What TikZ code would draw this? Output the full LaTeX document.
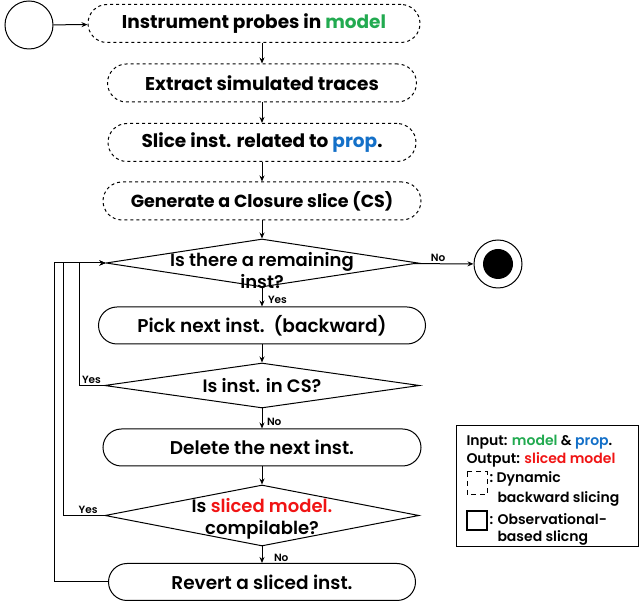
\documentclass[tikz,border=0pt]{standalone}
\usepackage{fontspec}
\setmainfont{Poppins}
\IfFontExistsTF{Poppins SemiBold}
  {\newfontfamily\medfont{Poppins SemiBold}}
  {\IfFontExistsTF{Poppins Medium}
    {\newfontfamily\medfont{Poppins Medium}}
    {\newfontfamily\medfont{Poppins}}}
\usetikzlibrary{shapes.geometric,arrows.meta}
\definecolor{mgreen}{RGB}{34,170,80}
\definecolor{pblue}{RGB}{20,112,200}
\definecolor{sred}{RGB}{240,20,20}

\begin{document}
\begin{tikzpicture}[x=1pt,y=-1pt,line width=1pt,>={Stealth[length=6pt,width=5pt]},
    dynbox/.style={draw,dashed,rounded corners=19pt,minimum height=38pt,inner sep=0pt,
        font=\bfseries\fontsize{18.5}{20}\selectfont},
    obsbox/.style={draw,rounded corners=18.5pt,minimum height=37pt,inner sep=0pt,
        font=\medfont\fontsize{18.5}{20}\selectfont},
    decision/.style={draw,diamond,inner sep=0pt},
    qtext/.style={align=center,font=\medfont\fontsize{18}{22}\selectfont},
    lbl/.style={font=\medfont\fontsize{10.5}{11}\selectfont,inner sep=1.5pt},
    legtext/.style={anchor=west,inner sep=0pt,font=\medfont\fontsize{14}{16}\selectfont}]
\useasboundingbox (0,0) rectangle (641,609);

% start / end
\node[draw,circle,minimum size=48pt,inner sep=0pt] (start) at (29,25) {};
\node[draw,circle,minimum size=48pt,inner sep=0pt] (end) at (498,264) {};
\node[circle,fill,minimum size=30pt,inner sep=0pt] at (end) {};

% dynamic backward slicing
\node[dynbox,minimum width=332pt] (b1) at (254,23.5) {Instrument probes in \textcolor{mgreen}{model}};
\node[dynbox,minimum width=309pt] (b2) at (262,83) {Extract simulated traces};
\node[dynbox,minimum width=308pt] (b3) at (262,142.5) {Slice inst. related to \textcolor{pblue}{prop}.};
\node[dynbox,minimum width=318pt,font=\bfseries\fontsize{17.5}{19}\selectfont] (b4) at (262,201) {Generate a Closure slice (CS)};

% observational-based slicing
\node[decision,minimum width=312pt,minimum height=48pt] (d1) at (262,263) {};
\node[qtext,yshift=-8pt] at (d1) {Is there a remaining\\inst?};
\node[obsbox,minimum width=327pt] (b5) at (262,325.5) {Pick next inst.\ \ (backward)};
\node[decision,minimum width=315pt,minimum height=45pt] (d2) at (262,385.5) {};
\node[qtext] at (d2) {Is inst. in CS?};
\node[obsbox,minimum width=318pt] (b6) at (262,447.5) {Delete the next inst.};
\node[decision,minimum width=314pt,minimum height=61pt] (d3) at (262,515.5) {};
\node[qtext,yshift=-3pt] at (d3) {Is \textcolor{sred}{sliced model.}\\compilable?};
\node[obsbox,minimum width=307pt] (b7) at (262,582) {Revert a sliced inst.};

\draw[->] (start) -- (b1);
\draw[->] (b1.south -| b2.north) -- (b2.north);
\draw[->] (b2) -- (b3);
\draw[->] (b3) -- (b4);
\draw[->] (b4) -- (d1);
\draw[->] (d1) -- node[lbl,above,pos=0.4]{No} (end);
\draw[->] (d1.south) -- node[lbl,right,xshift=4pt,yshift=-3pt]{Yes} (b5.north);
\draw[->] (d2.south) -- node[lbl,right,xshift=3pt,yshift=-3pt]{No} (b6.north);
\draw[->] (b5) -- (d2);
\draw[->] (b6) -- (d3);
\draw[->] (d3.south) -- node[lbl,right,xshift=10pt,yshift=-3pt]{No} (b7.north);

% loops back
\draw[->] (d2.west) -- node[lbl,above,pos=0.5]{Yes} ++(-25,0) |- (d1.west);
\draw[->] (d3.west) -- node[lbl,above,pos=0.4]{Yes} ++(-41,0) |- (d1.west);
\draw[->] (b7.west) -- ++(-54,0) |- (d1.west);

% legend
\draw (456,426) rectangle (638,547);
\node[legtext] at (466,442) {Input: \textcolor{mgreen}{model} \& \textcolor{pblue}{prop}.};
\node[legtext] at (466,460) {Output: \textcolor{sred}{sliced model}};
\draw[dashed,dash pattern=on 5pt off 4pt] (467,472) rectangle (487,495);
\node[legtext] at (489,479) {:\ Dynamic};
\node[legtext] at (497,499) {backward slicing};
\draw[line width=1.6pt] (467,511) rectangle (487,530);
\node[legtext] at (489,519) {: Observational-};
\node[legtext] at (497,538) {based slicng};
\end{tikzpicture}
\end{document}
